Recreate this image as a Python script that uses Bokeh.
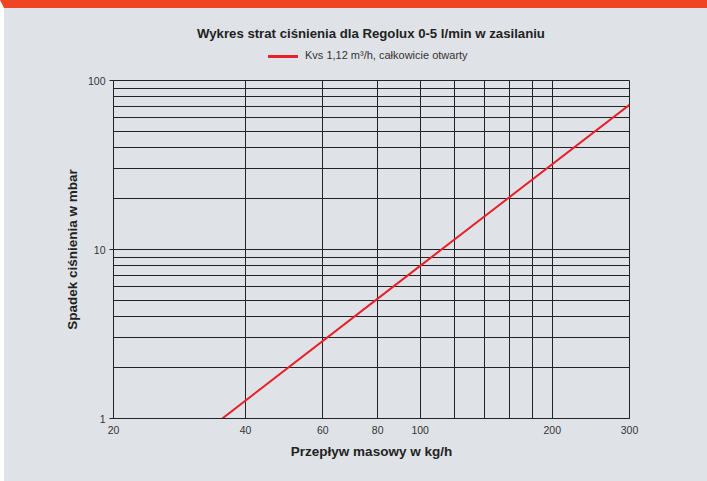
from bokeh.plotting import figure
from bokeh.models import Range1d, FixedTicker, NumeralTickFormatter, Div
from bokeh.layouts import column
from bokeh.embed import file_html
from bokeh.resources import INLINE

# Data
flow = [35.4, 100, 300]          # kg/h
drop = [1.0, 8.0, 71.7]          # mbar
title_text = "Wykres strat ciśnienia dla Regolux 0-5 l/min w zasilaniu"
series_label = "Kvs 1,12 m³/h, całkowicie otwarty"
x_ticks = [20, 40, 60, 80, 100, 200, 300]
x_grid = [40, 60, 80, 100, 120, 140, 160, 180, 200]
y_ticks = [1, 10, 100]
y_grid = [1, 2, 3, 4, 5, 6, 7, 8, 9, 10, 20, 30, 40, 50, 60, 70, 80, 90, 100]

BG = "#dfe3e7"
RED = "#e8202a"
FONT = "Liberation Sans"

header = Div(width=703, height=60, margin=0, styles={"background-color": BG}, text=f"""
<div style="position:relative;width:703px;height:60px;font-family:'{FONT}';">
  <div style="position:absolute;left:0;top:18px;width:734px;text-align:center;
              font-weight:bold;font-size:13.2px;line-height:16px;color:#222;">{title_text}</div>
  <div style="position:absolute;left:264px;top:40px;height:14px;line-height:14px;
              font-size:11px;color:#333;white-space:nowrap;">
    <span style="display:inline-block;width:30px;height:3px;background:{RED};
                 vertical-align:middle;margin-right:7px;"></span>{series_label}</div>
</div>""")

p = figure(width=703, height=413, x_axis_type="log", y_axis_type="log",
           output_backend="svg", toolbar_location=None, margin=0,
           x_range=Range1d(20, 300), y_range=Range1d(1, 100),
           min_border_left=109, min_border_right=78, min_border_top=12, min_border_bottom=63)
p.background_fill_color = BG
p.border_fill_color = BG
p.outline_line_color = "#222222"
p.outline_line_width = 1

p.line(flow, drop, line_color=RED, line_width=2)

for ax in (p.xaxis[0], p.yaxis[0]):
    ax.major_label_text_font = FONT
    ax.major_label_text_font_size = "10.5px"
    ax.major_label_text_color = "#333333"
    ax.axis_label_text_font = FONT
    ax.axis_label_text_font_size = "13.5px"
    ax.axis_label_text_font_style = "bold"
    ax.axis_label_text_color = "#222222"
    ax.minor_tick_line_color = None
    ax.axis_line_color = "#222222"
    ax.major_tick_line_color = "#222222"
    ax.major_tick_in = 0
    ax.formatter = NumeralTickFormatter(format="0")

p.xaxis.ticker = FixedTicker(ticks=x_ticks)
p.yaxis.ticker = FixedTicker(ticks=y_ticks)
p.xaxis.major_tick_out = 0
p.xaxis.major_label_standoff = 7
p.xaxis.axis_label_standoff = 7
p.yaxis.major_tick_out = 4
p.yaxis.major_label_standoff = 4
p.yaxis.axis_label_standoff = 5
p.xaxis.axis_label = "Przepływ masowy w kg/h"
p.yaxis.axis_label = "Spadek ciśnienia w mbar"
p.yaxis.major_label_orientation = "horizontal"

p.xgrid.ticker = FixedTicker(ticks=x_grid)
p.ygrid.ticker = FixedTicker(ticks=y_grid)
for g in (p.xgrid[0], p.ygrid[0]):
    g.grid_line_color = "#222222"
    g.grid_line_width = 1

layout = column(header, p, spacing=0)

html = file_html(layout, INLINE)
style = ("<style>html,body{margin:0 !important;padding:0 !important;background:" + BG + " !important;}"
         "body{border-top:8px solid #f04524 !important;border-left:4px solid #ffffff !important;}</style>")
html = html.replace("</head>", style + "</head>", 1)
open("out.html", "w").write(html)
